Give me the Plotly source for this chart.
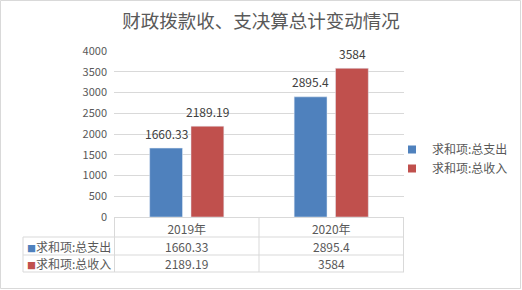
import plotly.graph_objects as go

categories = ["2019年", "2020年"]
series_names = ["求和项:总支出", "求和项:总收入"]
expense = [1660.33, 2895.4]
income = [2189.19, 3584]
value_labels_expense = ["1660.33", "2895.4"]
value_labels_income = ["2189.19", "3584"]
y_ticks = [0, 500, 1000, 1500, 2000, 2500, 3000, 3500, 4000]

W, H = 522, 290
FONT = "Noto Sans CJK SC, Noto Sans, sans-serif"
GRID = "#D9D9D9"
TXT = "#595959"
LBL = "#404040"
BLUE = "#4F81BD"
RED = "#C0504D"
colors = [BLUE, RED]

def px_x(v):
    return v / W

def px_y(v):
    return 1 - v / H

x_left, x_right = 114, 404
y_top, y_bottom = 51, 217

fig = go.Figure()
fig.add_trace(go.Bar(x=categories, y=expense, name=series_names[0], marker_color=BLUE,
                     showlegend=False, legendgroup="a"))
fig.add_trace(go.Bar(x=categories, y=income, name=series_names[1], marker_color=RED,
                     showlegend=False, legendgroup="b"))
# legend entries with small square swatches (linked to the bar series)
for name, col, grp in zip(series_names, colors, ["a", "b"]):
    fig.add_trace(go.Scatter(x=[None], y=[None], mode="markers", name=name, legendgroup=grp,
                             marker=dict(symbol="square", size=8, color=col), showlegend=True))

annotations = []
# data labels
for i, c in enumerate(categories):
    for vals, labs, shift in ((expense, value_labels_expense, -20.75), (income, value_labels_income, 20.75)):
        annotations.append(dict(x=c, y=vals[i], xref="x", yref="y", text=labs[i], showarrow=False,
                                xshift=shift, yshift=15, yanchor="middle",
                                font=dict(family=FONT, size=12, color=LBL)))

# table rows
row_centers = [246, 263.5]
rows = [(expense, value_labels_expense, BLUE), (income, value_labels_income, RED)]
for r, (vals, labs, col) in enumerate(rows):
    yc = px_y(row_centers[r])
    annotations.append(dict(x=px_x(25), y=yc, xref="paper", yref="paper", xanchor="left", yanchor="middle",
                            showarrow=False,
                            text=f"<span style='color:{col};font-size:9px'>■</span>{series_names[r]}",
                            font=dict(family=FONT, size=12, color=TXT)))
    for i, c in enumerate(categories):
        annotations.append(dict(x=c, y=yc, xref="x", yref="paper", yanchor="middle", showarrow=False,
                                text=labs[i], font=dict(family=FONT, size=12, color=TXT)))

shapes = []
line = dict(color=GRID, width=1)
# outer border
shapes.append(dict(type="rect", xref="paper", yref="paper", x0=px_x(0.5), x1=px_x(520.5),
                   y0=px_y(288.5), y1=px_y(0.5), line=line))
# table horizontal lines
for yy in (237, 255, 272):
    shapes.append(dict(type="line", xref="paper", yref="paper", x0=px_x(23), x1=px_x(x_right),
                       y0=px_y(yy), y1=px_y(yy), line=line))
# table vertical lines at category boundaries
n = len(categories)
for k in range(n + 1):
    shapes.append(dict(type="line", xref="x", yref="paper", x0=k - 0.5, x1=k - 0.5,
                       y0=px_y(217), y1=px_y(272), line=line))
shapes.append(dict(type="line", xref="paper", yref="paper", x0=px_x(23), x1=px_x(23),
                   y0=px_y(237), y1=px_y(272), line=line))

fig.update_layout(
    width=W, height=H,
    margin=dict(l=0, r=0, t=0, b=0),
    paper_bgcolor="white", plot_bgcolor="white",
    barmode="group", bargap=0.428, bargroupgap=0.205,
    title=dict(text="财政拨款收、支决算总计变动情况", x=0.5, xanchor="center",
               y=px_y(22), yanchor="middle",
               font=dict(family=FONT, size=18.5, color=TXT)),
    font=dict(family=FONT, size=12, color=TXT),
    xaxis=dict(domain=[px_x(x_left), px_x(x_right)], showline=True, linecolor=GRID, linewidth=1,
               showgrid=False, ticks="", tickfont=dict(family=FONT, size=12, color=TXT),
               ticklabelstandoff=2, fixedrange=True, automargin=False),
    yaxis=dict(domain=[px_y(y_bottom), px_y(y_top)], range=[0, 4000], tickvals=y_ticks,
               showgrid=True, gridcolor=GRID, gridwidth=1, zeroline=False, showline=False,
               tickfont=dict(family=FONT, size=11, color=TXT), ticklabelstandoff=6, fixedrange=True,
               automargin=False),
    legend=dict(x=px_x(392), y=px_y(135), xanchor="left", yanchor="top",
                font=dict(family=FONT, size=12, color=TXT), bgcolor="rgba(0,0,0,0)",
                itemwidth=30, tracegroupgap=0, borderwidth=0),
    showlegend=True,
    annotations=annotations,
    shapes=shapes,
)

fig.write_html("out.html")
